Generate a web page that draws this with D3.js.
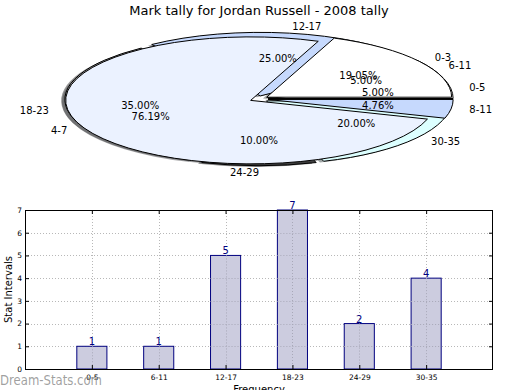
<!DOCTYPE html>
<html><head><meta charset="utf-8">
<script src="https://cdn.jsdelivr.net/npm/d3@7"></script>
<style>body{margin:0;background:#fff}svg{display:block}text{font-family:"DejaVu Sans",sans-serif}</style>
</head><body><svg id="c" width="520" height="390"></svg>
<script>
// ---- data ----
const title = "Mark tally for Jordan Russell - 2008 tally";
const outerCats = ["0-5","6-11","12-17","18-23","24-29","30-35"];
const outerVals = [1,1,5,7,2,4];
const innerCats = ["0-3","4-7","8-11"];
const innerVals = [4,16,1];
const barCats = ["0-5","6-11","12-17","18-23","24-29","30-35"];
const barVals = [1,1,5,7,2,4];
const yTicks = [0,1,2,3,4,5,6,7];
const yLabel = "Stat Intervals";
const xLabel = "Frequency";
const watermark = "Dream-Stats.com";

// ---- styles ----
const palette = ["#ffffff","#ebf2ff","#c6d9fd","#a8a8a8","#404040","#dcffff"];
const svg = d3.select("#c");

svg.append("text").attr("x", 259).attr("y", 15).attr("text-anchor","middle")
  .attr("font-size", 13).attr("fill","#000").text(title);

// ---- pie ----
const cx = 259, cy = 99, rx = 185, ry = 63.5, expl = 0.05;
const pieGen = d3.pie().sort(null).startAngle(Math.PI/2).endAngle(Math.PI/2 - 2*Math.PI);
const arc = d3.arc().innerRadius(0).outerRadius(rx);
const pies = [
  {cats: outerCats, arcs: pieGen(outerVals)},
  {cats: innerCats, arcs: pieGen(innerVals)}
];
const pg = svg.append("g").attr("transform", `translate(${cx},${cy}) scale(1,${ry/rx})`);
function mid(d){ return (d.startAngle + d.endAngle)/2; }
function shade(c){ const r = d3.rgb(c); return d3.rgb(r.r*0.3, r.g*0.3, r.b*0.3).toString(); }
// shadows
pies.forEach(p => {
  pg.selectAll(null).data(p.arcs).enter().append("path")
    .attr("d", arc)
    .attr("transform", d => `translate(${expl*rx*Math.sin(mid(d)) - 0.02*rx},${-expl*rx*Math.cos(mid(d)) + 0.02*rx})`)
    .attr("fill", (d,i) => shade(palette[i])).attr("fill-opacity", 0.5);
});
// wedges
pies.forEach(p => {
  pg.selectAll(null).data(p.arcs).enter().append("path")
    .attr("d", arc)
    .attr("transform", d => `translate(${expl*rx*Math.sin(mid(d))},${-expl*rx*Math.cos(mid(d))})`)
    .attr("fill", (d,i) => palette[i])
    .attr("stroke", "#000").attr("stroke-width", 1)
    .attr("vector-effect", "non-scaling-stroke");
});
// texts
pies.forEach(p => {
  const tot = d3.sum(p.arcs, d => d.value);
  p.arcs.forEach((d,i) => {
    const m = mid(d), s = Math.sin(m), c = Math.cos(m);
    svg.append("text")
      .attr("x", cx + (expl+1.1)*rx*s).attr("y", cy - (expl+1.1)*ry*c)
      .attr("dy","0.35em").attr("font-size", 10)
      .attr("text-anchor", s > 1e-9 ? "start" : "end")
      .text(p.cats[i]);
    svg.append("text")
      .attr("x", cx + (expl+0.6)*rx*s).attr("y", cy - (expl+0.6)*ry*c)
      .attr("dy","0.35em").attr("font-size", 10).attr("text-anchor","middle")
      .text((d.value/tot*100).toFixed(2) + "%");
  });
});

// ---- bar chart ----
const L = 25, R = 493, T = 210, B = 369;
const x = d3.scaleLinear().domain([0,7]).range([L,R]);
const y = d3.scaleLinear().domain([0,7]).range([B,T]);
const bg = svg.append("g");
const gridC = "#b8b8b8";
[1,2,3,4,5,6].forEach(v => {
  bg.append("line").attr("x1", L).attr("x2", R).attr("y1", Math.round(y(v))+0.5).attr("y2", Math.round(y(v))+0.5)
    .attr("stroke", gridC).attr("stroke-dasharray","1,2");
});
barCats.forEach((c,i) => {
  bg.append("line").attr("y1", T).attr("y2", B).attr("x1", Math.round(x(i+1))+0.5).attr("x2", Math.round(x(i+1))+0.5)
    .attr("stroke", gridC).attr("stroke-dasharray","1,2");
});
const bw = x(0.45) - x(0);
bg.selectAll(null).data(barVals).enter().append("rect")
  .attr("x", (d,i) => x(i+1) - bw/2).attr("width", bw)
  .attr("y", d => y(d)).attr("height", d => B - y(d))
  .attr("fill", "#ccccdf").attr("stroke", "#00007f").attr("stroke-width", 1);
// grid drawn over bars
barCats.forEach((c,i) => {
  bg.append("line").attr("y1", y(barVals[i])).attr("y2", B).attr("x1", Math.round(x(i+1))+0.5).attr("x2", Math.round(x(i+1))+0.5)
    .attr("stroke", "#a8a8b8").attr("stroke-dasharray","1,2");
});
[1,2,3,4,5,6].forEach(v => {
  barVals.forEach((bv,i) => { if (bv > v) {
    bg.append("line").attr("x1", x(i+1)-bw/2).attr("x2", x(i+1)+bw/2).attr("y1", Math.round(y(v))+0.5).attr("y2", Math.round(y(v))+0.5)
      .attr("stroke", "#a8a8b8").attr("stroke-dasharray","1,2");
  }});
});
bg.selectAll(null).data(barVals).enter().append("text")
  .attr("x", (d,i) => x(i+1)).attr("y", d => y(d) - 1)
  .attr("text-anchor","middle").attr("font-size", 10).attr("fill", "#00007f")
  .text(d => d);

// axes
const yAx = d3.axisLeft(y).tickValues(yTicks).tickSize(-4).tickPadding(3).tickFormat(d3.format("d"));
const gy = svg.append("g").attr("transform", `translate(${L},0)`).call(yAx);
const gyr = svg.append("g").attr("transform", `translate(${R},0)`).call(d3.axisRight(y).tickValues(yTicks).tickSize(-4).tickFormat(""));
const xAx = d3.axisBottom(x).tickValues([1,2,3,4,5,6]).tickSize(-4).tickPadding(6).tickFormat(v => barCats[v-1]);
const gx = svg.append("g").attr("transform", `translate(0,${B})`).call(xAx);
const gxt = svg.append("g").attr("transform", `translate(0,${T})`).call(d3.axisTop(x).tickValues([1,2,3,4,5,6]).tickSize(-4).tickFormat(""));
[gy,gyr,gx,gxt].forEach(g => {
  g.select(".domain").remove();
  g.selectAll("text").attr("font-family","DejaVu Sans").attr("font-size", 7.5).attr("fill","#000");
  g.selectAll("line").attr("stroke","#000");
});
svg.append("rect").attr("x", L+0.5).attr("y", T+0.5).attr("width", R-L-1).attr("height", B-T)
  .attr("fill","none").attr("stroke","#000").attr("stroke-width",1);

svg.append("text").attr("transform", `translate(12,${(T+B)/2}) rotate(-90)`)
  .attr("text-anchor","middle").attr("font-size", 10).text(yLabel);
svg.append("text").attr("x", (L+R)/2).attr("y", 393).attr("text-anchor","middle")
  .attr("font-size", 10).text(xLabel);
svg.append("text").attr("x", 0).attr("y", 385).attr("font-size", 14.5)
  .attr("textLength", 102).attr("lengthAdjust","spacingAndGlyphs")
  .attr("fill", "#8f8f8f").attr("fill-opacity", 0.85).text(watermark);
</script></body></html>
